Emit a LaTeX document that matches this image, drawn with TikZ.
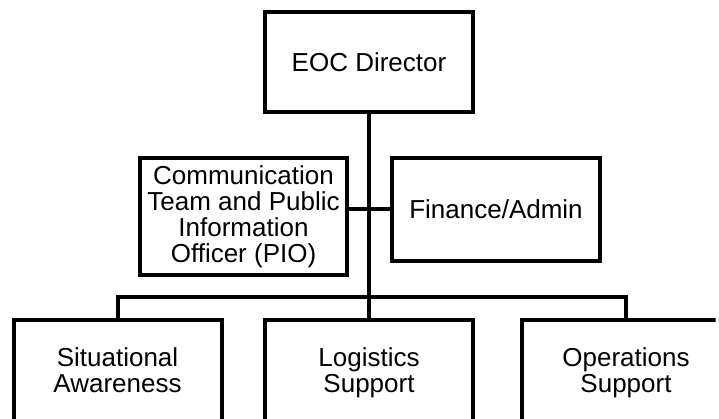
\documentclass[tikz,border=0pt]{standalone}
\usepackage{fontspec}
\setmainfont{Liberation Sans}
\usetikzlibrary{calc}

% one line of box text, same height and depth whatever the letters
\newcommand{\boxline}{\rule[-6pt]{0pt}{26pt}}

\begin{document}
\begin{tikzpicture}[x=1pt, y=-1pt,
	unit/.style={draw, rectangle, line width=4pt, minimum width=208pt,
		align=center, inner sep=0pt, font=\fontsize{26}{26}\selectfont},
	link/.style={line width=4pt}]
	\def \boxh {104}
	\def \rowy {372}

	\useasboundingbox (0,0) rectangle (719,419);
	\clip (0,0) rectangle (715.5,419);

	\node[unit, minimum height=100pt] (director) at (369,62)
		{EOC Director};
	\node[unit, minimum width=207pt, minimum height=117pt] (comms) at (243.5,216.5)
		{Communication\\Team and Public\\Information\\Officer (PIO)};
	\node[unit, minimum height=103pt] (finance) at (496,209.5)
		{Finance/Admin};

	\node[unit, minimum height=\boxh pt] (situation)  at (117.5,\rowy)
		{\boxline Situational\\\boxline Awareness};
	\node[unit, minimum height=\boxh pt] (logistics)  at (369,\rowy)
		{\boxline Logistics\\\boxline Support};
	\node[unit, minimum height=\boxh pt] (operations) at (626,\rowy)
		{\boxline Operations\\\boxline Support};

	\coordinate (bus) at (369,297);

	\draw[link] (director.south) -- (logistics.north);
	\draw[link] (finance.west) -- (finance.west -| comms.east);
	\draw[link] (situation.north) |- (bus) -| (operations.north);
\end{tikzpicture}
\end{document}
